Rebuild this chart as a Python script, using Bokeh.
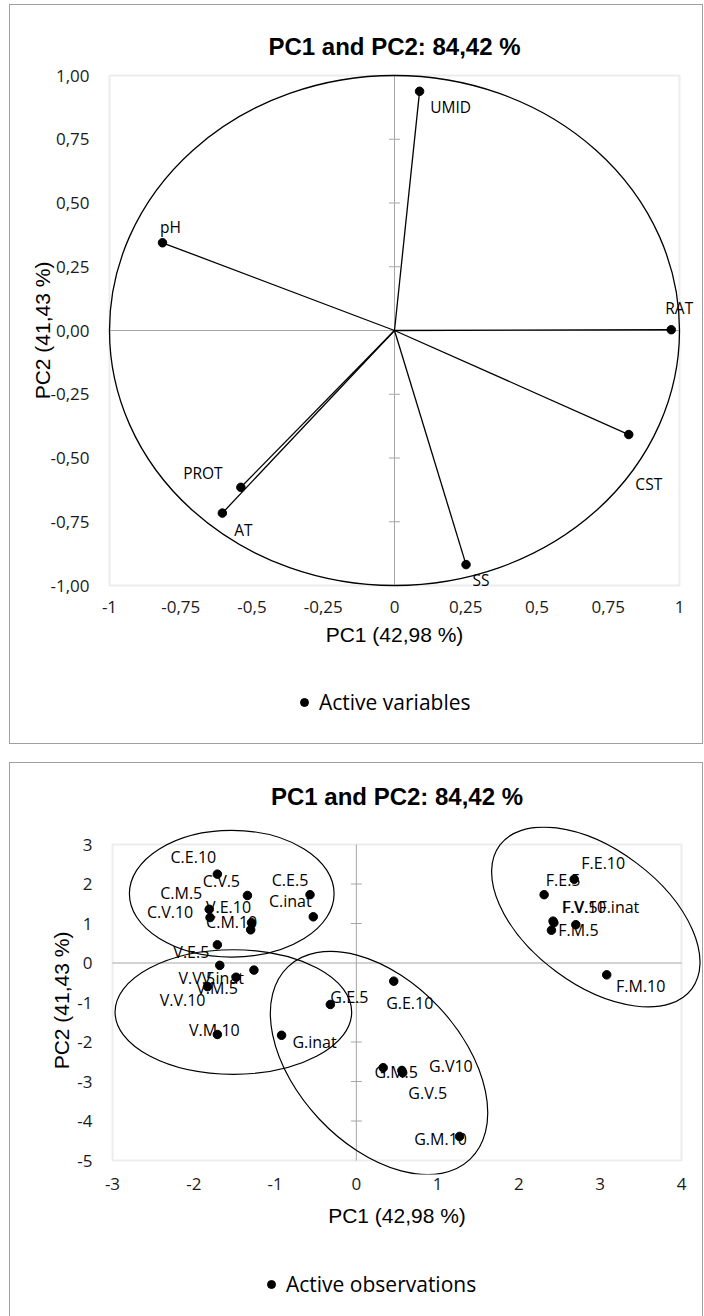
import numpy as np
from bokeh.plotting import figure
from bokeh.models import Range1d, FixedTicker, BoxAnnotation, Legend, LegendItem, ColumnDataSource
from bokeh.layouts import column
from bokeh.embed import file_html
from bokeh.resources import INLINE
from bokeh.core.properties import value

# ---------------- texts ----------------
chart_title = "PC1 and PC2: 84,42 %"
x_axis_title = "PC1 (42,98 %)"
y_axis_title = "PC2 (41,43 %)"
legend_top = "Active variables"
legend_bottom = "Active observations"

# ---------------- chart 1: variables ----------------
var_names = ["UMID", "pH", "RAT", "CST", "SS", "PROT", "AT"]
var_pc1 = [0.088, -0.814, 0.971, 0.822, 0.251, -0.539, -0.604]
var_pc2 = [0.938, 0.344, 0.003, -0.408, -0.918, -0.615, -0.716]
var_label_dx = [31, 8, 8, 20, 15, -38, 21]
var_label_dy = [16, -16, -22, 49, 15, -14, 17]

x1_ticks = [-1, -0.75, -0.5, -0.25, 0, 0.25, 0.5, 0.75, 1]
x1_tick_labels = ["-1", "-0,75", "-0,5", "-0,25", "0", "0,25", "0,5", "0,75", "1"]
y1_ticks = [-1, -0.75, -0.5, -0.25, 0, 0.25, 0.5, 0.75, 1]
y1_tick_labels = ["-1,00", "-0,75", "-0,50", "-0,25", "0,00", "0,25", "0,50", "0,75", "1,00"]

# ---------------- chart 2: observations ----------------
obs_names = ["C.E.10", "C.V.5", "C.E.5", "C.inat", "C.M.5", "C.V.10", "C.M.10",
             "V.E.10", "V.E.5", "V.V.5", "V.inat", "V.M.5", "V.V.10", "V.M.10",
             "G.inat", "G.E.5", "G.E.10", "G.M.5", "G.V10", "G.V.5", "G.M.10",
             "F.E.10", "F.E.5", "F.V.5", "F.V.10", "F.inat", "F.M.5", "F.M.10"]
obs_pc1 = [-1.71, -1.34, -0.57, -0.53, -1.81, -1.80, -1.30,
           -1.29, -1.71, -1.68, -1.26, -1.48, -1.83, -1.71,
           -0.92, -0.32, 0.46, 0.33, 0.56, 0.57, 1.27,
           2.68, 2.31, 2.42, 2.43, 2.70, 2.40, 3.08]
obs_pc2 = [2.25, 1.71, 1.73, 1.17, 1.36, 1.15, 0.84,
           1.02, 0.46, -0.06, -0.18, -0.36, -0.60, -1.81,
           -1.83, -1.05, -0.46, -2.65, -2.72, -2.78, -4.39,
           2.12, 1.73, 1.06, 1.02, 0.97, 0.83, -0.30]
obs_label_dx = [-24, -26, -20, -23, -28, -40, -19,
                -23, -26, -23, -31, -19, -25, -3,
                33, 19, 16, 13, 49, 25, -19,
                29, 19, 27, 30, 43, 27, 34]
obs_label_dy = [-17, -14, -15, -16, -16, -6, -8,
                -16, 7, 13, 8, 11, 13, -4,
                7, -7, 22, 4, -4, 20, 3,
                -16, -15, -14, -16, -18, 0, 11]

x2_ticks = [-3, -2, -1, 0, 1, 2, 3, 4]
x2_tick_labels = ["-3", "-2", "-1", "0", "1", "2", "3", "4"]
y2_ticks = [-5, -4, -3, -2, -1, 0, 1, 2, 3]
y2_tick_labels = ["-5", "-4", "-3", "-2", "-1", "0", "1", "2", "3"]

# group ellipses drawn around clusters (C, V, G, F)
group_cx = [-1.533, -1.513, 0.279, 2.946]
group_cy = [1.754, -1.241, -2.532, 1.165]
group_w = [2.518, 2.911, 3.26, 2.95]
group_h = [3.207, 3.154, 4.15, 3.42]
group_angle = [0.0, 0.0, -0.815, -0.642]

# ---------------- styling ----------------
TICK_FONT = "Open Sans"
LABEL_FONT = "Open Sans"
TITLE_FONT = "Liberation Sans"
OUTER = "#a0a0a0"
BOX = "#bfbfbf"
AXIS = "#a6a6a6"
CONTENT_W = 692


def make_figure(x_ticks, x_tick_labels, y_ticks, y_tick_labels, box_px, pads, borders,
                x_std, x_lab_std, y_std, y_lab_std, title_std):
    bx0, bx1 = x_ticks[0], x_ticks[-1]
    by0, by1 = y_ticks[0], y_ticks[-1]
    bw, bh = box_px
    pl, pr, pt, pb = pads
    sx = bw / (bx1 - bx0)
    sy = bh / (by1 - by0)
    bl, br, btop, bbot = borders
    p = figure(frame_width=bw + pl + pr, frame_height=bh + pt + pb,
               x_range=Range1d(bx0 - pl / sx, bx1 + pr / sx),
               y_range=Range1d(by0 - pb / sy, by1 + pt / sy),
               min_border_left=bl, min_border_right=br,
               min_border_top=btop, min_border_bottom=bbot,
               output_backend="svg", toolbar_location=None, title=chart_title)
    p.outline_line_color = None
    p.grid.visible = False
    p.background_fill_color = "white"
    p.border_fill_color = "white"

    p.title.align = "center"
    p.title.text_font = TITLE_FONT
    p.title.text_font_size = "24px"
    p.title.text_font_style = "bold"
    p.title.text_color = "black"
    p.title.standoff = title_std

    for ax, ticks, labels, std, lstd, ttl in (
            (p.xaxis[0], x_ticks, x_tick_labels, x_std, x_lab_std, x_axis_title),
            (p.yaxis[0], y_ticks, y_tick_labels, y_std, y_lab_std, y_axis_title)):
        ax.ticker = FixedTicker(ticks=ticks)
        ax.major_label_overrides = {t: l for t, l in zip(ticks, labels)}
        ax.axis_line_color = None
        ax.major_tick_line_color = None
        ax.minor_tick_line_color = None
        ax.major_tick_in = 0
        ax.major_tick_out = 0
        ax.minor_tick_in = 0
        ax.minor_tick_out = 0
        ax.major_label_standoff = std
        ax.major_label_text_font = TICK_FONT
        ax.major_label_text_font_size = "17px"
        ax.major_label_text_color = "#1a1a1a"
        ax.axis_label = ttl
        ax.axis_label_text_font = TITLE_FONT
        ax.axis_label_text_font_size = "21px"
        ax.axis_label_text_font_style = "normal"
        ax.axis_label_text_color = "black"
        ax.axis_label_standoff = lstd

    # plot-area box
    p.add_layout(BoxAnnotation(left=bx0, right=bx1, bottom=by0, top=by1,
                               fill_color=None, line_color=BOX, line_width=2, level="underlay"))
    # zero axes with tick marks on the vertical one
    p.segment(x0=[bx0, 0], y0=[0, by0], x1=[bx1, 0], y1=[0, by1], line_color=AXIS, line_width=1)
    inner = [t for t in y_ticks if by0 < t < by1 and t != 0]
    p.scatter(x=[0] * len(inner), y=inner, marker="dash", size=11, line_color=AXIS, line_width=1)
    return p


def legend_figure(label, height, loc):
    # strip under a chart that only carries its legend (frame aligned with the chart's frame)
    lf = figure(width=CONTENT_W, height=height, x_range=Range1d(0, 1), y_range=Range1d(0, 1),
                x_axis_type=None, y_axis_type=None, min_border=0,
                output_backend="svg", toolbar_location=None)
    lf.outline_line_color = None
    lf.grid.visible = False
    # a NaN point draws nothing itself; it only supplies the legend's marker style
    r = lf.scatter(x=np.array([np.nan]), y=np.array([np.nan]), size=8.5,
                   fill_color="black", line_color="black")
    leg = Legend(items=[LegendItem(label=label, renderers=[r])], location=loc,
                 border_line_color=None, background_fill_alpha=0, padding=0, margin=0,
                 glyph_width=20, glyph_height=20, label_standoff=5,
                 label_text_font=LABEL_FONT, label_text_font_size="21px", label_text_color="black")
    lf.add_layout(leg)
    return lf


# ---------------- chart 1 ----------------
p1 = make_figure(x1_ticks, x1_tick_labels, y1_ticks, y1_tick_labels,
                 box_px=(570, 510), pads=(20, 20, 3, 3), borders=(79, 3, 67, 80),
                 x_std=12, x_lab_std=7, y_std=0, y_lab_std=-7, title_std=26)

p1.ellipse(x=[0], y=[0], width=[2], height=[2], fill_color=None, line_color="black", line_width=1.3)
src1 = ColumnDataSource(dict(x0=[0] * len(var_names), y0=[0] * len(var_names),
                             x=var_pc1, y=var_pc2, name=var_names, dx=var_label_dx, dy=var_label_dy))
p1.segment(x0="x0", y0="y0", x1="x", y1="y", source=src1, line_color="black", line_width=1.3)
p1.text(x="x", y="y", text="name", x_offset="dx", y_offset="dy", source=src1,
        text_font=value(LABEL_FONT), text_font_size="15.5px", text_align="center",
        text_baseline="middle", text_color="black")
p1.scatter(x="x", y="y", source=src1, size=8.5, fill_color="black", line_color="black")
lf1 = legend_figure(legend_top, 75, (205, 27))

chart1 = column(p1, lf1, spacing=0, styles={"border": "1px solid " + OUTER}, margin=(4, 0, 0, 9))

# ---------------- chart 2 ----------------
p2 = make_figure(x2_ticks, x2_tick_labels, y2_ticks, y2_tick_labels,
                 box_px=(569, 316), pads=(20, 20, 18, 14), borders=(82, 1, 62, 65),
                 x_std=3, x_lab_std=11, y_std=0, y_lab_std=1, title_std=34)

p2.ellipse(x=group_cx, y=group_cy, width=group_w, height=group_h, angle=group_angle,
           fill_color=None, line_color="black", line_width=1.2)
src2 = ColumnDataSource(dict(x=obs_pc1, y=obs_pc2, name=obs_names, dx=obs_label_dx, dy=obs_label_dy))
p2.text(x="x", y="y", text="name", x_offset="dx", y_offset="dy", source=src2,
        text_font=value(LABEL_FONT), text_font_size="16px", text_align="center",
        text_baseline="middle", text_color="black")
p2.scatter(x="x", y="y", source=src2, size=8.5, fill_color="black", line_color="black")
lf2 = legend_figure(legend_bottom, 77, (169, 18))

chart2 = column(p2, lf2, spacing=0,
                styles={"border": "1px solid " + OUTER, "border-bottom": "none"}, margin=(0, 0, 0, 9))

layout = column(chart1, chart2, spacing=18)
open("out.html", "w").write(file_html(layout, INLINE))
